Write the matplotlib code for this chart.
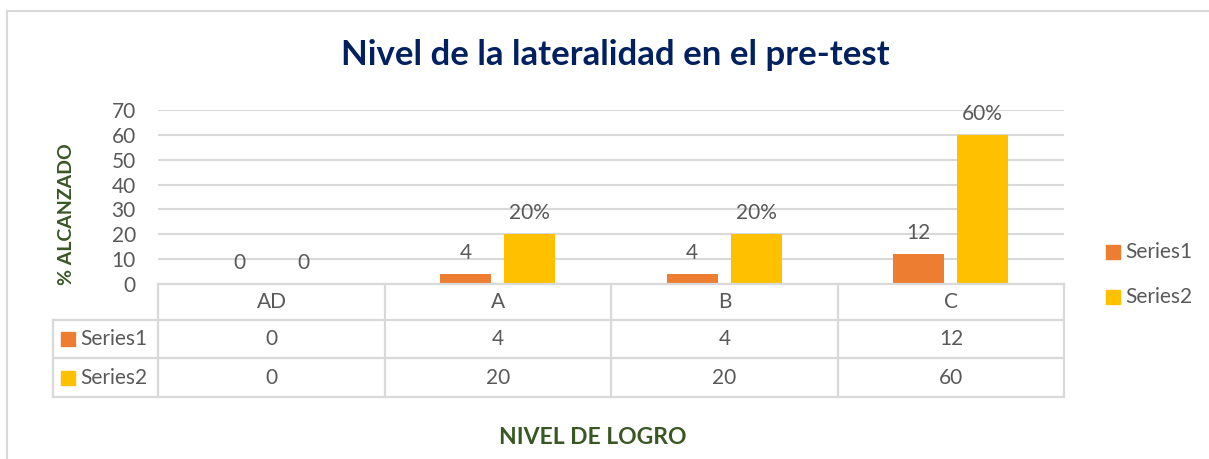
import matplotlib.pyplot as plt
from matplotlib.lines import Line2D
from matplotlib.patches import Rectangle
import numpy as np

plt.rcParams['font.family'] = ['Lato', 'DejaVu Sans']

categories = ["AD", "A", "B", "C"]
series_names = ["Series1", "Series2"]
series1 = [0, 4, 4, 12]
series2 = [0, 20, 20, 60]
labels1 = ["0", "4", "4", "12"]
labels2 = ["0", "20%", "20%", "60%"]
yticks = [0, 10, 20, 30, 40, 50, 60, 70]

orange = "#ED7D31"
yellow = "#FFC000"
text_gray = "#595959"
grid_gray = "#D9D9D9"
green = "#385723"
navy = "#002060"

W, H = 1209, 459
fig = plt.figure(figsize=(W / 100, H / 100), dpi=100)


def fx(px):
    return px / W


def fy(py):
    return 1 - py / H


FS = 15

# plot area in pixel coords
x0, x1 = 158, 1064
y_top, y_bot = 110, 284
ax = fig.add_axes([fx(x0), fy(y_bot), fx(x1) - fx(x0), fy(y_top) - fy(y_bot)])

x = np.arange(len(categories))
bw = 0.225
off = 0.141
ax.bar(x - off, series1, bw, color=orange, zorder=3)
ax.bar(x + off, series2, bw, color=yellow, zorder=3)

for xi, v, lab in zip(x, series1, labels1):
    ax.annotate(lab, (xi - off, v), xytext=(0, 8), textcoords="offset points",
                ha="center", va="bottom", fontsize=FS, color=text_gray)
for xi, v, lab in zip(x, series2, labels2):
    ax.annotate(lab, (xi + off, v), xytext=(0, 8), textcoords="offset points",
                ha="center", va="bottom", fontsize=FS, color=text_gray)

ax.set_xlim(-0.5, len(categories) - 0.5)
ax.set_ylim(0, 70)
ax.set_yticks(yticks)
ax.set_xticks([])
ax.tick_params(axis="y", length=0, labelsize=FS, labelcolor=text_gray, pad=16)
ax.grid(axis="y", color=grid_gray, linewidth=1.5, zorder=0)
for s in ax.spines.values():
    s.set_visible(False)

# data table below the axis
lc = dict(color=grid_gray, linewidth=1.6, transform=fig.transFigure)
col_edges = [158, 385, 611, 838, 1064]
row_edges = [284, 320, 358, 397]
fig.add_artist(Line2D([fx(158), fx(1064)], [fy(284), fy(284)], **lc))
for ry in row_edges[1:]:
    fig.add_artist(Line2D([fx(53), fx(1064)], [fy(ry), fy(ry)], **lc))
fig.add_artist(Line2D([fx(53), fx(53)], [fy(320), fy(397)], **lc))
for cx in col_edges:
    fig.add_artist(Line2D([fx(cx), fx(cx)], [fy(284), fy(397)], **lc))

for i, cat in enumerate(categories):
    cx = (col_edges[i] + col_edges[i + 1]) / 2
    fig.text(fx(cx), fy(302), cat, ha="center", va="center", fontsize=FS, color=text_gray)
    fig.text(fx(cx), fy(339), str(series1[i]), ha="center", va="center", fontsize=FS, color=text_gray)
    fig.text(fx(cx), fy(378), str(series2[i]), ha="center", va="center", fontsize=FS, color=text_gray)

for name, col, ry in zip(series_names, [orange, yellow], [339, 378]):
    fig.add_artist(Rectangle((fx(61), fy(ry + 7)), fx(14), fy(0) - fy(14),
                             color=col, transform=fig.transFigure))
    fig.text(fx(80), fy(ry), name, ha="left", va="center", fontsize=FS, color=text_gray)

# legend on the right
for name, col, ry in zip(series_names, [orange, yellow], [252, 297]):
    fig.add_artist(Rectangle((fx(1106), fy(ry + 7)), fx(14), fy(0) - fy(14),
                             color=col, transform=fig.transFigure))
    fig.text(fx(1125), fy(ry), name, ha="left", va="center", fontsize=FS, color=text_gray)

# titles
fig.text(fx(615), fy(55), "Nivel de la lateralidad en el pre-test", ha="center", va="center",
         fontsize=25, fontweight="bold", color=navy)
fig.text(fx(66), fy(214), "% ALCANZADO", ha="center", va="center", rotation=90,
         fontsize=14, fontweight="bold", color=green)
fig.text(fx(593), fy(437), "NIVEL DE LOGRO", ha="center", va="center",
         fontsize=16.5, fontweight="bold", color=green)

# outer frame
fc = dict(color=grid_gray, linewidth=1.5, transform=fig.transFigure)
fig.add_artist(Line2D([fx(7), fx(1209)], [fy(11), fy(11)], **fc))
fig.add_artist(Line2D([fx(7), fx(7)], [fy(11), fy(459)], **fc))

fig.savefig("out.png", dpi=100)
